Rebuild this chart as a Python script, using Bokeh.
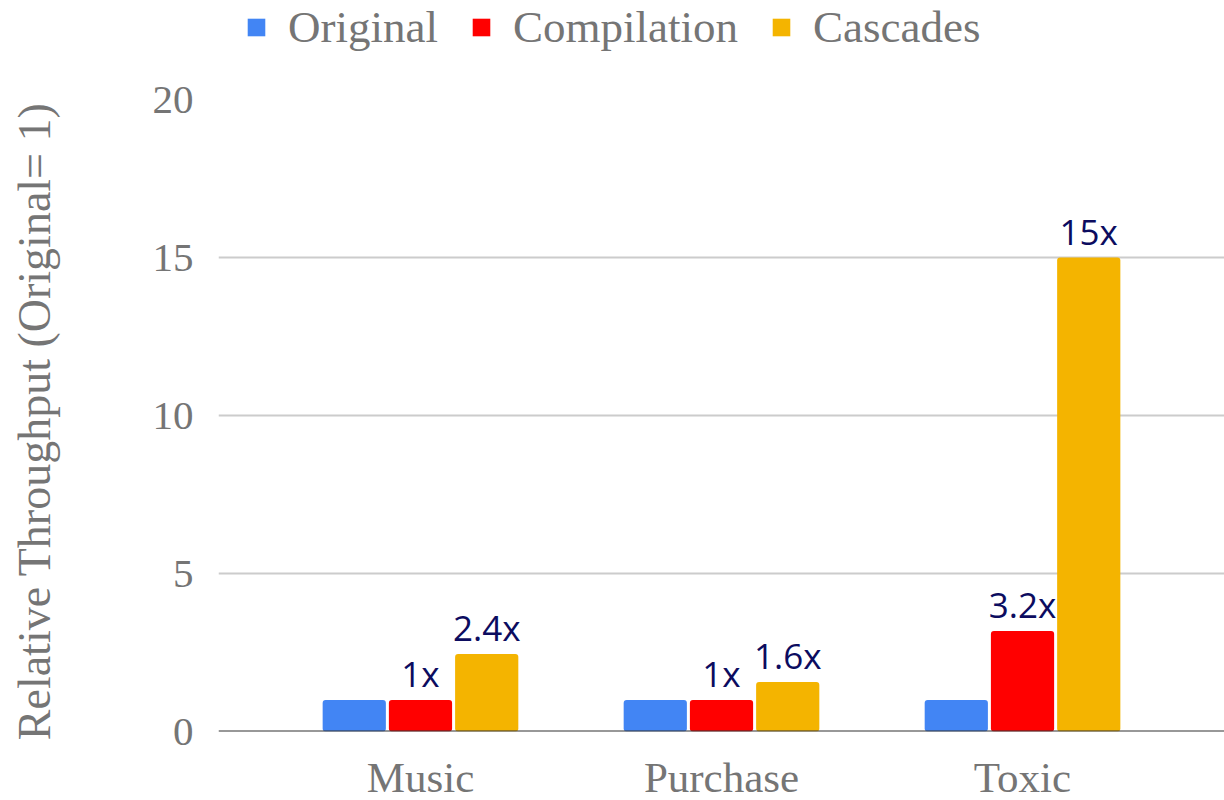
import numpy as np
from bokeh.plotting import figure
from bokeh.layouts import column
from bokeh.models import (Range1d, FixedTicker, Span, Legend, LegendItem, ColumnDataSource)
from bokeh.core.properties import value
from bokeh.embed import file_html
from bokeh.resources import INLINE

categories = ["Music", "Purchase", "Toxic"]
series_names = ["Original", "Compilation", "Cascades"]
original = [1.0, 1.0, 1.0]
compilation = [1.0, 1.0, 3.18]
cascades = [2.45, 1.57, 15.0]
compilation_labels = ["1x", "1x", "3.2x"]
cascades_labels = ["2.4x", "1.6x", "15x"]
y_ticks = [0, 5, 10, 15, 20]

colors = ["#4285F4", "#FF0000", "#F4B400"]
SERIF = "Liberation Serif"
GRAY = "#757575"
NAVY = "#0c0c5f"

LEG_H = 74

# ---- main chart ----
p = figure(frame_width=1006, frame_height=632, output_backend="svg", toolbar_location=None,
           x_range=Range1d(-0.671, 2.671), y_range=Range1d(0, 20),
           min_border_left=218, min_border_right=0, min_border_top=99 - LEG_H,
           min_border_bottom=0)
p.outline_line_color = None
p.background_fill_color = "white"
p.border_fill_color = "white"

idx = np.arange(len(categories))
offsets = [-0.22, 0.0, 0.22]
bw = 0.21
for vals, off, col in zip([original, compilation, cascades], offsets, colors):
    src = ColumnDataSource(dict(x=idx + off, top=vals))
    p.vbar(x="x", top="top", width=bw, bottom=0, source=src,
           fill_color=col, line_color=None, border_radius=3)

# value labels
for vals, labs, off in [(compilation, compilation_labels, offsets[1]),
                        (cascades, cascades_labels, offsets[2])]:
    src = ColumnDataSource(dict(x=idx + off, y=vals, t=labs))
    p.text(x="x", y="y", text="t", source=src, text_align="center",
           text_baseline="bottom", y_offset=-3, text_color=NAVY,
           text_font=value("Open Sans"), text_font_size="35px")

# baseline
p.add_layout(Span(location=0, dimension="width", line_color="#333333", line_width=2))

# axes
p.xaxis.ticker = FixedTicker(ticks=list(idx))
p.xaxis.major_label_overrides = {int(i): c for i, c in zip(idx, categories)}
p.xaxis.axis_line_color = None
p.xaxis.major_tick_line_color = None
p.xaxis.minor_tick_line_color = None
p.xaxis.major_tick_out = 0
p.xaxis.major_label_text_font = SERIF
p.xaxis.major_label_text_font_size = "43px"
p.xaxis.major_label_text_color = GRAY
p.xaxis.major_label_standoff = 22

p.yaxis.ticker = FixedTicker(ticks=y_ticks)
p.yaxis.axis_line_color = None
p.yaxis.major_tick_line_color = None
p.yaxis.minor_tick_line_color = None
p.yaxis.major_tick_out = 0
p.yaxis.major_label_text_font = SERIF
p.yaxis.major_label_text_font_size = "41px"
p.yaxis.major_label_text_color = GRAY
p.yaxis.major_label_standoff = 25
p.yaxis.axis_label = "Relative Throughput  (Original= 1)"
p.yaxis.axis_label_text_font = SERIF
p.yaxis.axis_label_text_font_size = "46px"
p.yaxis.axis_label_text_font_style = "normal"
p.yaxis.axis_label_text_color = GRAY
p.yaxis.axis_label_standoff = 90

p.xgrid.grid_line_color = None
p.ygrid.grid_line_color = "#cccccc"
p.ygrid.grid_line_width = 2

# ---- legend strip ----
lg = figure(width=1224, height=LEG_H, output_backend="svg", toolbar_location=None,
            x_axis_type=None, y_axis_type=None,
            x_range=Range1d(0, 1), y_range=Range1d(0, 1),
            min_border_left=218, min_border_right=0, min_border_top=0, min_border_bottom=0)
lg.outline_line_color = None
lg.xgrid.grid_line_color = None
lg.ygrid.grid_line_color = None
dummy = []
for col in colors:
    dummy.append(lg.vbar(x=[5], top=[0.5], width=0.1, fill_color=col, line_color=None))

legend = Legend(items=[LegendItem(label=n, renderers=[r]) for n, r in zip(series_names, dummy)],
                orientation="horizontal", location=(27, LEG_H - 53),
                padding=0, margin=0, spacing=32, label_standoff=21,
                glyph_width=22, glyph_height=22,
                border_line_color=None, background_fill_alpha=0,
                label_text_font=SERIF, label_text_font_size="45px",
                label_text_color=GRAY)
lg.add_layout(legend, "center")

layout = column(lg, p, spacing=0)
open("out.html", "w").write(file_html(layout, INLINE))
